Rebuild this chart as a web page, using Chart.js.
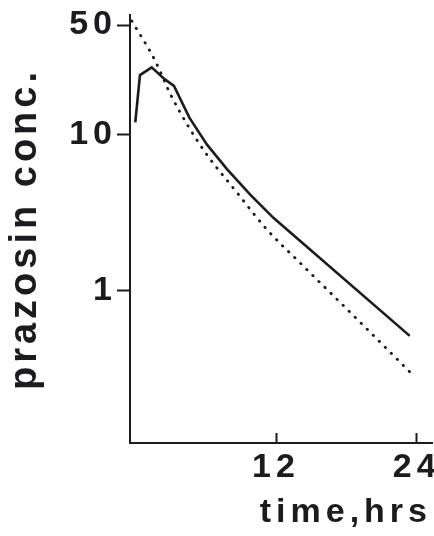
<!DOCTYPE html>
<html>
<head>
<meta charset="utf-8">
<script src="https://cdn.jsdelivr.net/npm/chart.js@4"></script>
<style>
  html, body { margin: 0; padding: 0; background: #fff; }
  #wrap { width: 434px; height: 536px; }
</style>
</head>
<body>
<div id="wrap"><canvas id="pkChart"></canvas></div>
<script>
// measured plasma levels (solid) and fitted curve (dotted)
const measuredHours = [0, 0.4, 1.4, 2.5, 3.3, 4.6, 6.1, 7.8, 9.8, 11.8, 23.4];
const measuredConc  = [11.9, 23.9, 26.8, 22.5, 20.4, 12.8, 8.6, 6.0, 4.1, 2.9, 0.51];

const fittedHours = [-0.3, 1.7, 3.0, 4.5, 6.1, 8.7, 11.2, 14.0, 16.9, 19.7, 23.4];
const fittedConc  = [53.2, 29.5, 18.0, 11.3, 7.4, 4.2, 2.46, 1.51, 0.92, 0.57, 0.30];

const yTickValues = [1, 10, 50];
const xTickValues = [12, 24];

const ink = '#1b1b20';

function toPoints(xs, ys) {
    return xs.map((x, i) => ({ x: x, y: ys[i] }));
}

// canvas letter spacing per scale part (ticks / title)
const spacing = { x: { ticks: '5px', title: '5px' }, y: { ticks: '5px', title: '4px' } };

const letterSpacingPlugin = {
    id: 'letterSpacing',
    beforeDraw(chart) {
        Object.values(chart.scales).forEach(scale => {
            if (scale._spaced) return;
            scale._spaced = true;
            const sp = spacing[scale.id];
            const drawLabels = scale.drawLabels;
            const drawTitle = scale.drawTitle;
            scale.drawLabels = function(area) {
                this.ctx.save();
                this.ctx.letterSpacing = sp.ticks;
                drawLabels.call(this, area);
                this.ctx.restore();
            };
            scale.drawTitle = function(area) {
                this.ctx.save();
                this.ctx.letterSpacing = sp.title;
                drawTitle.call(this, area);
                this.ctx.restore();
            };
        });
    }
};

const ctx = document.getElementById('pkChart');

new Chart(ctx, {
    type: 'line',
    data: {
        datasets: [{
            label: 'measured',
            data: toPoints(measuredHours, measuredConc),
            borderColor: ink,
            borderWidth: 2.6,
            pointRadius: 0,
            tension: 0,
            fill: false
        }, {
            label: 'fitted',
            data: toPoints(fittedHours, fittedConc),
            borderColor: ink,
            borderWidth: 2.8,
            borderDash: [0.5, 8],
            borderCapStyle: 'round',
            pointRadius: 0,
            cubicInterpolationMode: 'monotone',
            fill: false
        }]
    },
    options: {
        responsive: true,
        maintainAspectRatio: false,
        animation: false,
        layout: { padding: { top: 15, right: 2, bottom: 3, left: 0 } },
        plugins: {
            legend: { display: false },
            tooltip: { enabled: false }
        },
        scales: {
            x: {
                type: 'linear',
                min: -0.45,
                max: 25.3,
                afterBuildTicks: scale => { scale.ticks = xTickValues.map(v => ({ value: v })); },
                afterFit: scale => {
                    scale.height = 90;
                    scale.paddingLeft = 0;
                    scale.paddingRight = 0;
                },
                grid: { drawOnChartArea: false, tickLength: -10, tickWidth: 2, tickColor: ink },
                border: { color: ink, width: 2 },
                ticks: {
                    color: ink,
                    padding: 20,
                    maxRotation: 0,
                    font: { family: 'Liberation Sans', weight: 'bold', size: 34, lineHeight: 0.85 },
                    callback: v => String(v)
                },
                title: {
                    display: true,
                    text: 'time,hrs',
                    align: 'end',
                    color: ink,
                    padding: { top: 0, bottom: 0 },
                    font: { family: 'Liberation Sans', weight: 'bold', size: 34 }
                }
            },
            y: {
                type: 'logarithmic',
                min: 0.105,
                max: 58,
                afterBuildTicks: scale => { scale.ticks = yTickValues.map(v => ({ value: v })); },
                afterFit: scale => {
                    scale.width = 130;
                    scale.paddingTop = 0;
                    scale.paddingBottom = 0;
                },
                grid: { drawOnChartArea: false, tickLength: 13, tickWidth: 2, tickColor: ink },
                border: { color: ink, width: 2 },
                ticks: {
                    color: ink,
                    padding: 0,
                    font: { family: 'Liberation Sans', weight: 'bold', size: 34, lineHeight: 0.85 },
                    callback: v => String(v)
                },
                title: {
                    display: true,
                    text: 'prazosin conc.',
                    color: ink,
                    padding: { top: 3, bottom: 0 },
                    font: { family: 'Liberation Sans', weight: 'bold', size: 38 }
                }
            }
        }
    },
    plugins: [letterSpacingPlugin]
});
</script>
</body>
</html>
